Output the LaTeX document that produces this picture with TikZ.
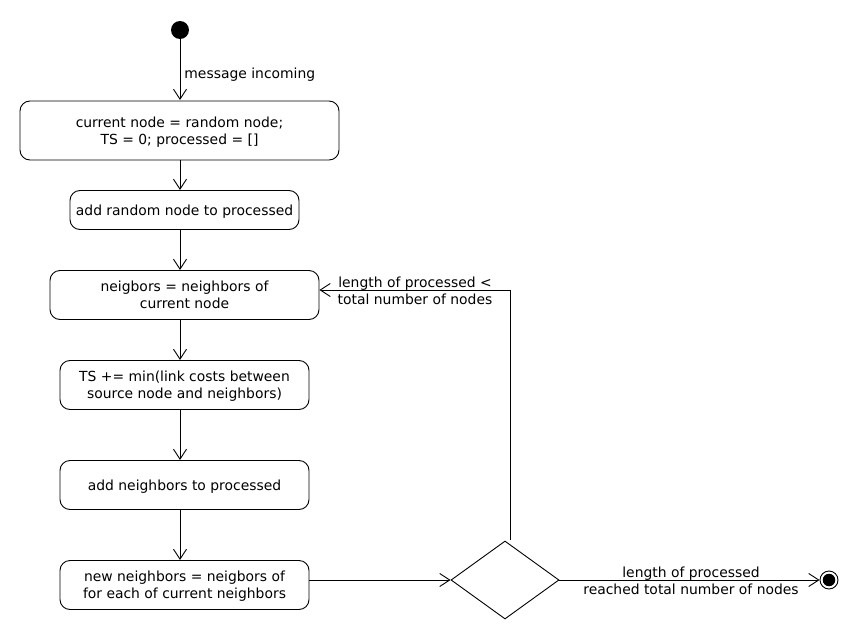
\documentclass[tikz,border=0pt]{standalone}
\usepackage{fontspec}
\setmainfont{DejaVu Sans}
\usetikzlibrary{arrows.meta,shapes.geometric}
\begin{document}
\begin{tikzpicture}[x=1pt,y=-1pt,
  font=\fontsize{13.9}{17}\selectfont,
  line width=0.9pt,
  act/.style={draw, rounded corners=10pt, align=center, inner sep=0pt, text depth=0pt},
  flow/.style={-{Straight Barb[length=10pt,width=13pt,line width=0.9pt]}},
  lbl/.style={align=center, inner sep=0pt}]
\useasboundingbox (0,0) rectangle (860,640);
\node[circle, fill, minimum size=18pt, inner sep=0pt] (s) at (180,30) {};
\node[act, minimum width=319pt, minimum height=59pt] (b1) at (179.5,130.5) {current node = random node;\\TS = 0; processed = []};
\node[act, minimum width=229pt, minimum height=39pt] (b2) at (184.5,210) {add random node to processed};
\node[act, minimum width=269pt, minimum height=49pt] (b3) at (184.5,295) {neigbors = neighbors of\\current node};
\node[act, minimum width=249pt, minimum height=49pt] (b4) at (184.5,385) {TS += min(link costs between\\source node and neighbors)};
\node[act, minimum width=249pt, minimum height=49pt] (b5) at (184.5,485) {add neighbors to processed};
\node[act, minimum width=249pt, minimum height=49pt] (b6) at (184.5,585) {new neighbors = neigbors of\\for each of current neighbors};
\node[diamond, draw, minimum width=108pt, minimum height=78pt, inner sep=0pt] (d) at (505,580) {};
\node[circle, draw, minimum size=18pt, inner sep=0pt] (e) at (829,580) {};
\node[circle, fill, minimum size=12.5pt, inner sep=0pt] (ei) at (829,580) {};

\draw[flow] (s) -- (180,100);
\node[anchor=west, inner sep=0pt] (m) at (184,74.5) {message incoming};
\draw[flow] (180,160) -- (180,190);
\draw[flow] (180,229.5) -- (180,270);
\draw[flow] (180,319.5) -- (180,360);
\draw[flow] (180,409.5) -- (180,460);
\draw[flow] (180,509.5) -- (180,560);
\coordinate (o6) at (309,580);
\draw[flow] (o6) -- (d.west);
\coordinate (lp) at (510,540);
\coordinate (lt) at (510,290);
\draw[flow] (lp) -- (lt) -- (b3.east |- lt);
\node[lbl] (l1) at (415,290.5) {length of processed <\\total number of nodes};
\draw[flow] (d.east) -- (e.west);
\node[lbl] (l2) at (691,580.5) {length of processed\\reached total number of nodes};
\end{tikzpicture}
\end{document}
